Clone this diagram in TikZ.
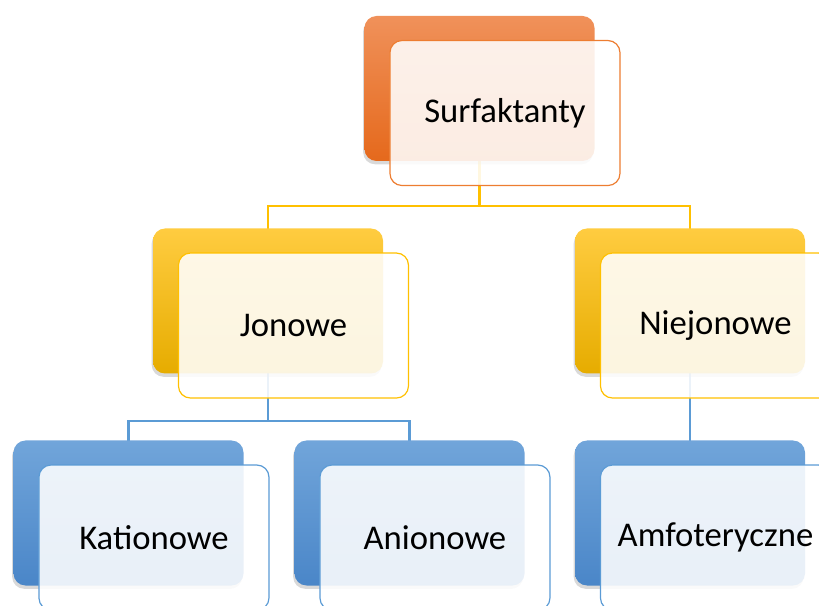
\documentclass[tikz,border=0pt]{standalone}
\usepackage{fontspec}
\setmainfont{Carlito}
\usetikzlibrary{shadows}

\definecolor{surTop}{HTML}{F0915A}
\definecolor{surBot}{HTML}{E5691C}
\definecolor{surLine}{HTML}{ED7D31}
\definecolor{jonTop}{HTML}{FFCC40}
\definecolor{jonBot}{HTML}{E6AC00}
\definecolor{jonLine}{HTML}{FFC000}
\definecolor{katTop}{HTML}{71A5DA}
\definecolor{katBot}{HTML}{4A86C8}
\definecolor{katLine}{HTML}{5B9BD5}

\tikzset{
  backbox/.style={rounded corners=9pt, minimum width=172.5pt, minimum height=108.75pt,
    drop shadow={opacity=0.3, shadow xshift=-1pt, shadow yshift=-2.5pt}},
  frontbox/.style={rounded corners=9pt, minimum width=172.5pt, minimum height=108.75pt,
    fill=white, fill opacity=0.88, text opacity=1, line width=0.9pt,
    font=\fontsize{26}{30}\selectfont},
  link/.style={line width=1.7pt}
}

\begin{document}
\begin{tikzpicture}[x=0.75pt, y=-0.75pt]
    \useasboundingbox (0,0) rectangle (819,606);
    \clip (0,0) rectangle (819,606);
    % connectors first, they run behind the boxes
    \coordinate (surB) at (479.5,161);
    \coordinate (jonN) at (268,229);
    \coordinate (nieN) at (690,229);
    \coordinate (jonB) at (268,373);
    \coordinate (nieB) at (690,373);
    \coordinate (katN) at (128.5,441);
    \coordinate (aniN) at (409.5,441);
    \coordinate (amfN) at (690,441);
    \draw[link, jonLine] (surB) -- ++(0,45) -| (jonN);
    \draw[link, jonLine] (surB) -- ++(0,45) -| (nieN);
    \draw[link, katLine] (jonB) -- ++(0,48) -| (katN);
    \draw[link, katLine] (jonB) -- ++(0,48) -| (aniN);
    \draw[link, katLine] (nieB) -- (amfN);
    % boxes: back card with gradient, light card on top
    \foreach \Name/\X/\Y/\Col/\Text in {
        sur/479.5/88.5/sur/{Surfaktanty},
        jon/268/301/jon/{Jonowe},
        nie/690/301/jon/{Niejonowe},
        kat/128.5/513/kat/{Kationowe},
        ani/409.5/513/kat/{Anionowe},
        amf/690/513/kat/{Amfoteryczne}}
    {
      \node[backbox, top color=\Col Top, bottom color=\Col Bot] (\Name-back) at (\X,\Y) {};
      \node[frontbox, draw=\Col Line] (\Name) at ([xshift=19.1pt,yshift=-18.4pt]\Name-back.center) {\Text};
    }
\end{tikzpicture}
\end{document}
